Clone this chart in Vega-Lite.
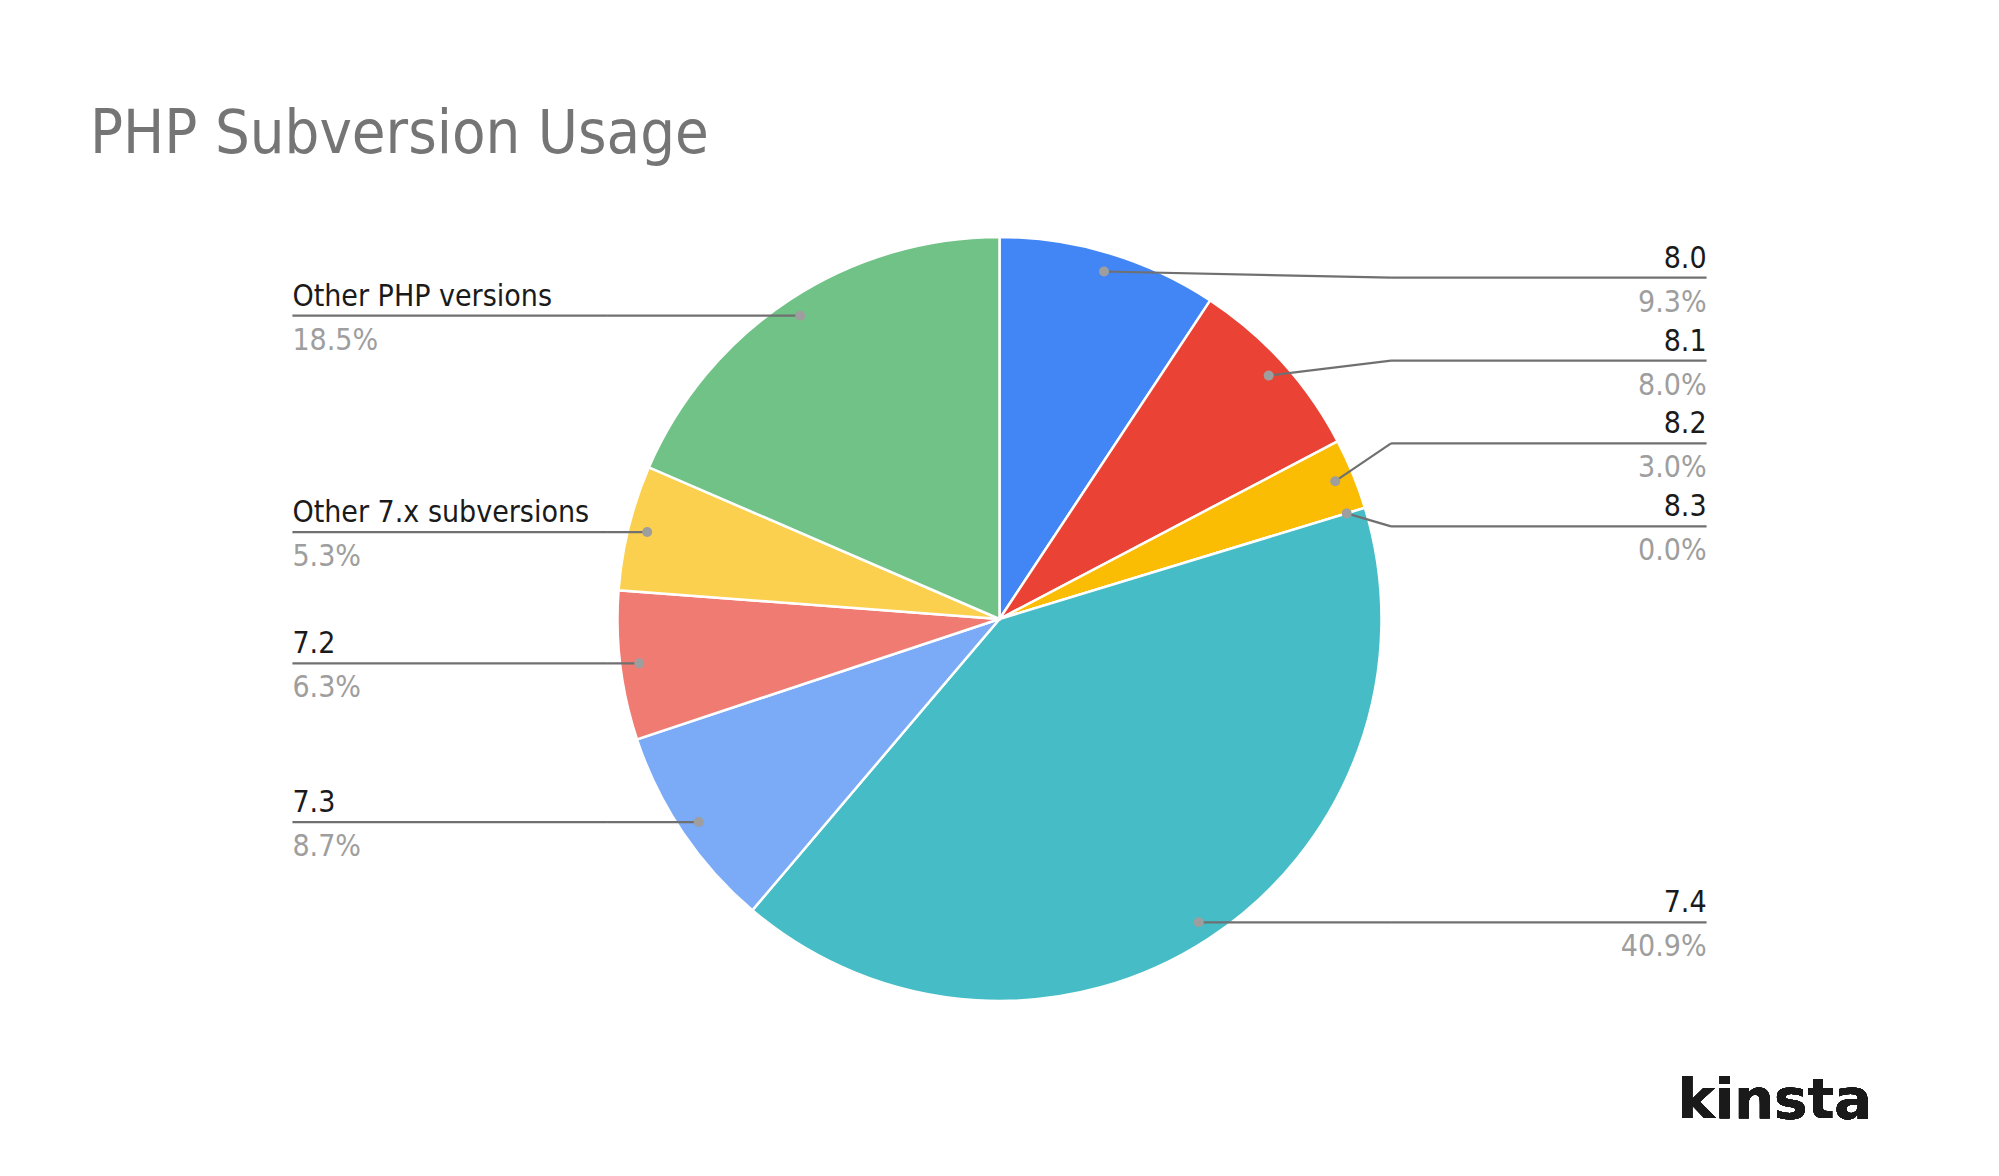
{
  "$schema": "https://vega.github.io/schema/vega-lite/v6.json",
  "width": 1999,
  "height": 1176,
  "autosize": {"type": "none"},
  "padding": 0,
  "background": "white",
  "title": {
    "text": "PHP Subversion Usage",
    "anchor": "start",
    "frame": "group",
    "orient": "top",
    "offset": 0,
    "baseline": "alphabetic",
    "dx": 90,
    "dy": 214,
    "font": "DejaVu Sans Condensed",
    "fontSize": 61,
    "fontWeight": "normal",
    "color": "#757575"
  },
  "data": {
    "values": [
      {"version": "8.0", "pct": 9.3},
      {"version": "8.1", "pct": 8.0},
      {"version": "8.2", "pct": 3.0},
      {"version": "8.3", "pct": 0.0},
      {"version": "7.4", "pct": 40.9},
      {"version": "7.3", "pct": 8.7},
      {"version": "7.2", "pct": 6.3},
      {"version": "Other 7.x subversions", "pct": 5.3},
      {"version": "Other PHP versions", "pct": 18.5}
    ]
  },
  "transform": [
    {"window": [{"op": "row_number", "as": "idx"}, {"op": "sum", "field": "pct", "as": "cum"}], "frame": [null, 0]},
    {"joinaggregate": [{"op": "sum", "field": "pct", "as": "total"}]},
    {"calculate": "2*PI*(datum.cum - datum.pct/2)/datum.total", "as": "mid"},
    {"calculate": "0.95*sin(datum.mid)", "as": "px"},
    {"calculate": "0.95*cos(datum.mid)", "as": "py"},
    {"calculate": "datum.px >= 0 ? 1 : -1", "as": "side"},
    {"calculate": "(datum.side > 0 && datum.py > 0) ? 'ru' : 'g' + datum.idx", "as": "grp"},
    {"joinaggregate": [{"op": "mean", "field": "py", "as": "gmean"}, {"op": "count", "as": "gn"}], "groupby": ["grp"]},
    {"window": [{"op": "row_number", "as": "grank"}], "groupby": ["grp"], "sort": [{"field": "idx", "order": "ascending"}]},
    {"calculate": "datum.gmean + 0.022*(datum.gn > 1 ? 1 : 0) - (datum.grank - 1 - (datum.gn - 1)/2) * 0.217", "as": "ly"},
    {"calculate": "datum.side * 1.025", "as": "ex"},
    {"calculate": "datum.side * 1.851", "as": "lx"},
    {"calculate": "format(datum.pct, '.1f') + '%'", "as": "pctLabel"}
  ],
  "layer": [
    {
      "mark": {"type": "arc", "outerRadius": 382, "stroke": "white", "strokeWidth": 2.5},
      "encoding": {
        "x": {"datum": 0, "type": "quantitative", "scale": {"domain": [-2.6165, 2.6165], "nice": false, "zero": false}, "axis": null},
        "y": {"datum": 0, "type": "quantitative", "scale": {"domain": [-1.4581, 1.6204], "nice": false, "zero": false}, "axis": null},
        "theta": {"field": "pct", "type": "quantitative", "stack": true},
        "order": {"field": "idx", "type": "quantitative"},
        "color": {
          "field": "version",
          "type": "nominal",
          "legend": null,
          "scale": {
            "domain": ["8.0", "8.1", "8.2", "8.3", "7.4", "7.3", "7.2", "Other 7.x subversions", "Other PHP versions"],
            "range": ["#4285F4", "#EA4335", "#FBBC04", "#34A853", "#46BDC6", "#7BAAF7", "#F07B72", "#FCD04F", "#71C287"]
          }
        }
      }
    },
    {
      "mark": {"type": "rule", "color": "#707070", "strokeWidth": 2.2},
      "encoding": {
        "x": {"field": "px", "type": "quantitative", "scale": {"domain": [-2.6165, 2.6165], "nice": false, "zero": false}, "axis": null},
        "y": {"field": "py", "type": "quantitative", "scale": {"domain": [-1.4581, 1.6204], "nice": false, "zero": false}, "axis": null},
        "x2": {"field": "ex"},
        "y2": {"field": "ly"}
      }
    },
    {
      "mark": {"type": "rule", "color": "#707070", "strokeWidth": 2.2},
      "encoding": {
        "x": {"field": "ex", "type": "quantitative", "scale": {"domain": [-2.6165, 2.6165], "nice": false, "zero": false}, "axis": null},
        "y": {"field": "ly", "type": "quantitative", "scale": {"domain": [-1.4581, 1.6204], "nice": false, "zero": false}, "axis": null},
        "x2": {"field": "lx"},
        "y2": {"field": "ly"}
      }
    },
    {
      "mark": {"type": "circle", "color": "#9e9e9e", "opacity": 1, "size": 100},
      "encoding": {
        "x": {"field": "px", "type": "quantitative", "scale": {"domain": [-2.6165, 2.6165], "nice": false, "zero": false}, "axis": null},
        "y": {"field": "py", "type": "quantitative", "scale": {"domain": [-1.4581, 1.6204], "nice": false, "zero": false}, "axis": null}
      }
    },
    {
      "transform": [{"filter": "datum.side > 0"}],
      "mark": {"type": "text", "align": "right", "baseline": "alphabetic", "dy": -10, "font": "DejaVu Sans Condensed", "fontSize": 30, "color": "#1a1a1a"},
      "encoding": {
        "x": {"field": "lx", "type": "quantitative", "scale": {"domain": [-2.6165, 2.6165], "nice": false, "zero": false}, "axis": null},
        "y": {"field": "ly", "type": "quantitative", "scale": {"domain": [-1.4581, 1.6204], "nice": false, "zero": false}, "axis": null},
        "text": {"field": "version"}
      }
    },
    {
      "transform": [{"filter": "datum.side > 0"}],
      "mark": {"type": "text", "align": "right", "baseline": "alphabetic", "dy": 34, "font": "DejaVu Sans Condensed", "fontSize": 30, "color": "#9e9e9e"},
      "encoding": {
        "x": {"field": "lx", "type": "quantitative", "scale": {"domain": [-2.6165, 2.6165], "nice": false, "zero": false}, "axis": null},
        "y": {"field": "ly", "type": "quantitative", "scale": {"domain": [-1.4581, 1.6204], "nice": false, "zero": false}, "axis": null},
        "text": {"field": "pctLabel"}
      }
    },
    {
      "transform": [{"filter": "datum.side < 0"}],
      "mark": {"type": "text", "align": "left", "baseline": "alphabetic", "dy": -10, "font": "DejaVu Sans Condensed", "fontSize": 30, "color": "#1a1a1a"},
      "encoding": {
        "x": {"field": "lx", "type": "quantitative", "scale": {"domain": [-2.6165, 2.6165], "nice": false, "zero": false}, "axis": null},
        "y": {"field": "ly", "type": "quantitative", "scale": {"domain": [-1.4581, 1.6204], "nice": false, "zero": false}, "axis": null},
        "text": {"field": "version"}
      }
    },
    {
      "transform": [{"filter": "datum.side < 0"}],
      "mark": {"type": "text", "align": "left", "baseline": "alphabetic", "dy": 34, "font": "DejaVu Sans Condensed", "fontSize": 30, "color": "#9e9e9e"},
      "encoding": {
        "x": {"field": "lx", "type": "quantitative", "scale": {"domain": [-2.6165, 2.6165], "nice": false, "zero": false}, "axis": null},
        "y": {"field": "ly", "type": "quantitative", "scale": {"domain": [-1.4581, 1.6204], "nice": false, "zero": false}, "axis": null},
        "text": {"field": "pctLabel"}
      }
    },
    {
      "mark": {"type": "text", "text": "kinsta", "align": "right", "baseline": "alphabetic", "font": "DejaVu Sans", "fontWeight": "bold", "fontSize": 56, "color": "#1b1a1a"},
      "encoding": {
        "x": {"datum": 2.284, "type": "quantitative", "scale": {"domain": [-2.6165, 2.6165], "nice": false, "zero": false}, "axis": null},
        "y": {"datum": -1.306, "type": "quantitative", "scale": {"domain": [-1.4581, 1.6204], "nice": false, "zero": false}, "axis": null}
      }
    }
  ],
  "config": {"view": {"stroke": null}}
}
